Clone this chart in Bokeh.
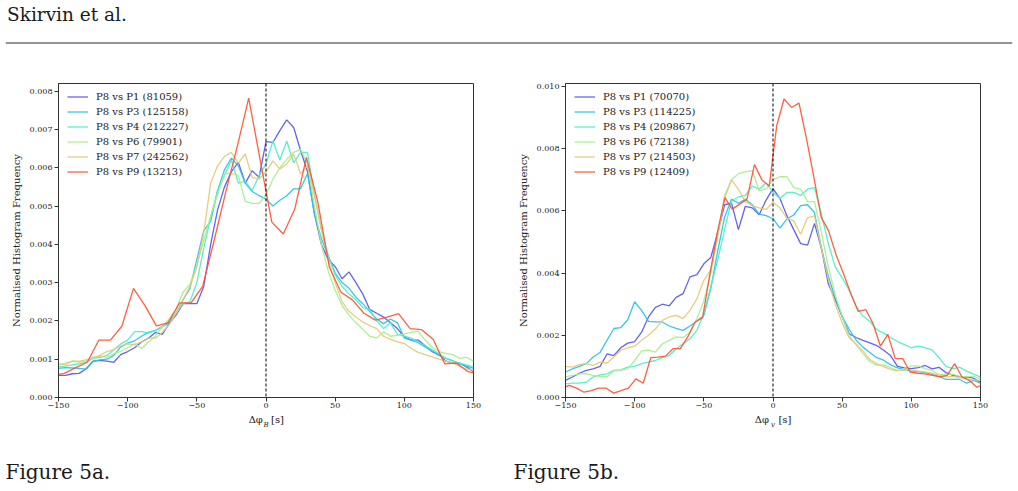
from bokeh.plotting import figure
from bokeh.models import Range1d, FixedTicker, PrintfTickFormatter, Span, Legend, LinearAxis, Label
from bokeh.layouts import column, row
from bokeh.embed import file_html
from bokeh.resources import INLINE

# ---------------- data (values in units of 1e-3) ----------------
x_dense = list(range(-150, 155, 5))

labels_a = ["P8 vs P1 (81059)", "P8 vs P3 (125158)", "P8 vs P4 (212227)",
            "P8 vs P6 (79901)", "P8 vs P7 (242562)", "P8 vs P9 (13213)"]
labels_b = ["P8 vs P1 (70070)", "P8 vs P3 (114225)", "P8 vs P4 (209867)",
            "P8 vs P6 (72138)", "P8 vs P7 (214503)", "P8 vs P9 (12409)"]

a_p1 = [0.58,0.58,0.62,0.63,0.75,0.95,0.97,0.95,0.92,1.12,
        1.2,1.3,1.45,1.55,1.7,1.65,1.93,2.15,2.45,2.45,
        2.45,2.9,4.0,4.9,5.5,5.9,6.14,5.6,5.92,5.75,
        6.68,
        6.66,6.97,7.25,7.05,6.45,5.9,4.8,4.0,3.6,3.42,
        3.1,3.28,3.0,2.7,2.3,2.2,2.1,1.95,1.8,1.58,
        1.5,1.5,1.35,1.2,1.12,0.95,0.9,0.9,0.8,0.67]
a_p3 = [0.76,0.78,0.77,0.76,0.74,0.94,0.98,1.0,1.1,1.32,
        1.42,1.48,1.6,1.7,1.75,1.85,1.95,2.2,2.55,2.85,
        3.6,4.36,4.6,5.4,5.95,6.25,6.05,5.6,5.38,5.27,
        5.18,
        5.0,5.15,5.27,5.45,5.45,5.85,4.8,4.15,3.7,3.25,
        3.0,2.85,2.62,2.45,2.25,2.05,1.93,2.05,1.95,1.56,
        1.5,1.43,1.32,1.22,1.1,1.02,0.96,0.88,0.82,0.76]
a_p4 = [0.8,0.82,0.85,0.88,0.92,1.02,1.05,1.1,1.25,1.4,
        1.5,1.72,1.72,1.68,1.75,1.85,2.0,2.2,2.45,2.5,
        3.0,3.9,4.7,5.4,5.8,6.2,5.6,5.65,5.4,5.8,
        6.1,
        6.7,6.2,6.7,6.13,6.4,6.4,5.3,4.4,3.7,3.2,
        2.9,2.7,2.55,2.35,2.3,2.0,1.8,1.95,1.65,1.6,
        1.55,1.45,1.35,1.25,1.15,1.02,0.95,0.9,0.85,0.8]
a_p6 = [0.85,0.9,0.95,0.92,0.95,1.05,1.08,1.05,1.15,1.2,
        1.3,1.4,1.28,1.45,1.6,1.85,2.05,2.3,2.75,2.95,
        3.45,4.1,4.75,5.3,5.85,5.85,5.8,5.12,5.07,5.07,
        5.3,
        5.7,6.0,6.22,6.4,6.48,6.1,5.0,4.0,3.3,2.8,
        2.4,2.15,1.95,1.78,1.6,1.55,1.72,1.6,1.62,1.66,
        1.7,1.73,1.5,1.32,1.2,1.15,1.12,1.02,1.05,0.95]
a_p7 = [0.88,0.85,0.95,0.95,0.98,1.05,1.1,1.2,1.25,1.35,
        1.4,1.38,1.45,1.55,1.55,1.7,1.9,2.2,2.55,2.9,
        3.4,4.3,5.6,6.05,6.3,6.4,6.12,6.36,5.75,5.7,
        5.9,
        6.18,5.97,6.1,6.35,5.84,6.05,5.3,4.4,3.6,3.0,
        2.5,2.25,2.1,1.97,1.88,1.8,1.6,1.52,1.45,1.41,
        1.28,1.18,1.12,1.06,1.0,0.95,0.9,0.82,0.75,0.71]
a_p9_x = [-154.2,-145.8,-137.5,-129.2,-120.8,-112.5,-104.2,-95.8,-87.5,-79.2,
          -70.8,-62.5,-54.2,-45.8,-37.5,-29.2,-20.8,-12.5,-4.2,4.2,
          12.5,20.8,29.2,37.5,45.8,54.2,62.5,70.8,79.2,87.5,
          95.8,104.2,112.5,120.8,129.2,137.5,145.8,154.2]
a_p9 = [0.58,0.63,0.78,0.92,1.5,1.5,1.86,2.85,2.4,1.87,
        1.95,2.47,2.47,2.9,4.1,5.35,6.55,7.82,6.2,4.58,
        4.27,4.92,6.27,5.1,3.4,2.75,2.55,2.2,2.02,2.1,
        2.19,1.8,1.77,1.52,0.88,0.9,0.68,0.6]

b_p1 = [0.55,0.66,0.78,0.87,0.92,1.0,1.4,1.35,1.6,1.75,
        1.8,2.1,2.59,2.9,3.0,2.95,3.22,3.34,3.88,3.95,
        4.3,4.5,5.3,6.2,6.25,5.4,6.15,6.1,5.88,6.35,
        6.72,
        6.4,5.85,5.4,4.95,4.9,5.6,4.8,3.65,3.15,2.6,
        2.05,1.93,1.84,1.76,1.67,1.52,1.35,1.0,0.95,0.93,
        0.96,1.03,0.92,0.97,0.8,0.71,0.67,0.66,0.62,0.49]
b_p3 = [0.82,0.92,1.0,1.09,1.3,1.45,1.84,2.22,2.25,2.5,
        3.08,2.8,2.45,2.43,2.43,2.3,2.22,2.16,2.3,2.45,
        2.64,3.5,4.7,5.8,6.38,6.25,6.38,6.2,5.9,5.85,
        5.75,
        5.45,5.74,5.87,6.17,6.2,5.95,4.8,3.9,3.2,2.6,
        2.2,1.85,1.62,1.45,1.28,1.2,1.05,0.95,0.9,0.86,
        0.83,0.8,0.74,0.68,0.58,0.58,0.58,0.46,0.55,0.46]
b_p4 = [0.44,0.46,0.46,0.49,0.66,0.73,0.76,0.87,0.89,0.98,
        1.0,1.09,1.14,1.19,1.28,1.35,1.57,1.73,1.89,2.16,
        2.7,3.56,4.42,5.4,6.33,6.45,6.5,6.8,6.7,6.9,
        6.6,
        6.4,6.6,6.6,6.5,6.7,6.75,5.9,4.95,4.2,3.85,
        3.45,2.95,2.62,2.45,2.18,2.07,1.93,1.8,1.7,1.6,
        1.65,1.6,1.53,1.28,1.0,0.93,0.97,0.85,0.75,0.66]
b_p6 = [0.66,0.71,0.76,0.77,0.71,0.68,0.66,0.87,0.88,0.92,
        1.19,1.5,1.52,1.46,1.73,1.84,1.95,1.93,2.1,2.54,
        3.1,4.0,5.2,6.5,7.0,7.2,7.26,7.3,6.65,6.7,
        7.0,
        7.1,7.1,6.75,6.7,6.3,6.3,5.3,4.2,3.3,2.6,
        2.0,1.7,1.42,1.15,1.04,1.05,0.95,0.87,0.87,1.02,
        1.02,0.93,0.87,0.74,0.74,0.75,0.68,0.67,0.68,0.6]
b_p7 = [1.0,0.98,1.06,1.09,1.03,1.14,1.11,1.3,1.52,1.6,
        1.65,1.84,2.0,2.2,2.48,2.59,2.64,2.54,2.8,3.18,
        3.77,4.1,5.2,6.4,7.0,6.7,6.3,6.17,6.1,6.05,
        6.27,
        6.1,5.77,5.68,5.25,5.78,5.84,4.8,3.8,3.0,2.4,
        1.92,1.72,1.5,1.22,1.09,0.99,0.9,0.86,0.92,0.88,
        0.85,0.82,0.78,0.72,0.66,0.68,0.64,0.6,0.57,0.55]
b_p9_x = [-152.7,-147.3,-142.0,-136.6,-131.3,-125.9,-120.5,-115.2,-109.8,-104.5,
          -99.1,-93.8,-88.4,-83.0,-77.7,-72.3,-67.0,-61.6,-56.3,-50.9,
          -45.5,-40.2,-34.8,-29.5,-24.1,-18.8,-13.4,-8.0,-2.7,2.7,
          8.0,13.4,18.8,24.1,29.5,34.8,40.2,45.5,50.9,56.3,
          61.6,67.0,72.3,77.7,83.0,88.4,93.8,99.1,104.5,109.8,
          115.2,120.5,125.9,131.3,136.6,142.0,147.3,152.7]
b_p9 = [0.3,0.39,0.3,0.17,0.22,0.3,0.3,0.14,0.22,0.3,
        0.6,0.46,1.28,1.3,1.33,1.57,1.57,1.95,2.43,2.57,
        4.0,5.31,6.43,6.06,6.22,6.38,7.49,7.0,6.8,8.74,
        9.6,9.33,9.47,8.35,7.1,5.8,5.36,4.6,3.99,3.34,
        2.77,2.83,2.38,1.65,2.03,1.25,1.25,0.82,0.78,0.76,
        0.71,0.66,0.71,1.09,0.66,0.55,0.33,0.44]

x_ticks = [-150, -100, -50, 0, 50, 100, 150]
y_ticks_a = [0, 0.001, 0.002, 0.003, 0.004, 0.005, 0.006, 0.007, 0.008]
y_ticks_b = [0, 0.002, 0.004, 0.006, 0.008, 0.010]

colors = ["#5656f4", "#26c2e6", "#4deec6", "#a6ee8e", "#e6c878", "#ff5232"]

SERIF = "DejaVu Serif"
TXT = "#222222"


def make_panel(series, labels, ymax, yticks, left, width, xl):
    p = figure(width=width, height=380, x_range=Range1d(-150, 150),
               y_range=Range1d(0, ymax), output_backend="svg",
               toolbar_location=None, min_border_left=left,
               min_border_right=width - left - 415, min_border_top=23,
               min_border_bottom=43)
    p.background_fill_color = "white"
    p.border_fill_color = "white"
    p.outline_line_color = "#333333"
    p.outline_line_width = 1
    p.grid.visible = False

    p.xaxis.ticker = FixedTicker(ticks=x_ticks)
    p.xaxis.major_label_overrides = {-150: "\u2212150", -100: "\u2212100", -50: "\u221250"}
    p.yaxis.ticker = FixedTicker(ticks=yticks)
    p.yaxis.formatter = PrintfTickFormatter(format="%.3f")
    for ax in (p.xaxis, p.yaxis):
        ax.major_tick_in = 0
        ax.major_tick_out = 4
        ax.minor_tick_line_color = None
        ax.axis_line_color = "#333333"
        ax.major_tick_line_color = "#333333"
        ax.major_label_text_font = SERIF
        ax.major_label_text_font_size = "8px"
        ax.major_label_text_color = TXT
    p.xaxis.major_label_standoff = 1
    p.yaxis.major_label_standoff = 2
    p.yaxis.axis_label = "Normalised Histogram Frequency"
    p.yaxis.axis_label_text_font = SERIF
    p.yaxis.axis_label_text_font_size = "10px"
    p.yaxis.axis_label_text_font_style = "normal"
    p.yaxis.axis_label_text_color = TXT
    p.yaxis.axis_label_standoff = 5

    items = []
    for (xs, ys), lab, col in zip(series, labels, colors):
        r = p.line(xs, [v * 1e-3 for v in ys], line_color=col,
                   line_width=1.3, line_alpha=0.92)
        items.append((lab, [r]))

    p.add_layout(Span(location=0, dimension="height", line_color="black",
                      line_width=1, line_dash="3 2"))

    leg = Legend(items=items, location=(9, 219), padding=0, margin=0,
                 spacing=2, glyph_height=13, glyph_width=21, label_height=13,
                 label_standoff=8, label_text_font=SERIF,
                 label_text_font_size="10px", label_text_color=TXT,
                 border_line_color=None, background_fill_alpha=0)
    p.add_layout(leg)

    # x-axis label "Δφ_sub [s]" built from a label-only axis; subscript is its axis label
    xd, xs_, sub = xl
    ax2 = LinearAxis(ticker=FixedTicker(ticks=[xd, xs_]),
                     major_label_overrides={xd: "\u0394\u03c6", xs_: "[s]"},
                     axis_line_color=None, major_tick_line_color=None,
                     minor_tick_line_color=None, major_tick_in=0, major_tick_out=0,
                     major_label_standoff=3, major_label_text_font=SERIF,
                     major_label_text_font_size="10px", major_label_text_color=TXT,
                     axis_label=sub, axis_label_standoff=-7,
                     axis_label_text_font=SERIF, axis_label_text_font_size="7px",
                     axis_label_text_font_style="italic", axis_label_text_color=TXT)
    p.add_layout(ax2, "below")
    return p


def text_strip(height, texts, rule_y=None):
    f = figure(width=1018, height=height, x_range=Range1d(0, 1007),
               y_range=Range1d(0, height), x_axis_location=None,
               y_axis_location=None, toolbar_location=None,
               output_backend="svg", min_border_left=5, min_border_right=6,
               min_border_top=0, min_border_bottom=0, outline_line_color=None)
    f.grid.visible = False
    f.background_fill_color = "white"
    f.border_fill_color = "white"
    for tx, x, y, size in texts:
        f.add_layout(Label(x=x, y=y, text=tx, text_font=SERIF, text_font_size=size,
                           text_color="#1a1a1a", text_baseline="alphabetic"))
    if rule_y is not None:
        f.add_layout(Span(location=rule_y, dimension="width",
                          line_color="#2a2a2a", line_width=1.2))
    return f


series_a = [(x_dense, a_p1), (x_dense, a_p3), (x_dense, a_p4),
            (x_dense, a_p6), (x_dense, a_p7), (a_p9_x, a_p9)]
series_b = [(x_dense, b_p1), (x_dense, b_p3), (x_dense, b_p4),
            (x_dense, b_p6), (x_dense, b_p7), (b_p9_x, b_p9)]

p1 = make_panel(series_a, labels_a, 0.0082, y_ticks_a, 58, 510, (-7.4, 8.3, "B"))
p2 = make_panel(series_b, labels_b, 0.0101, y_ticks_b, 55, 508, (-8.0, 8.6, "v"))

header = text_strip(60, [("Skirvin et al.", 1.5, 46, "18.5px")], rule_y=17.5)
captions = text_strip(51, [("Figure 5a.", 0, 20, "20px"), ("Figure 5b.", 508, 20, "20px")])

layout = column(header, row(p1, p2, spacing=0), captions, spacing=0)

open("out.html", "w").write(file_html(layout, INLINE))
